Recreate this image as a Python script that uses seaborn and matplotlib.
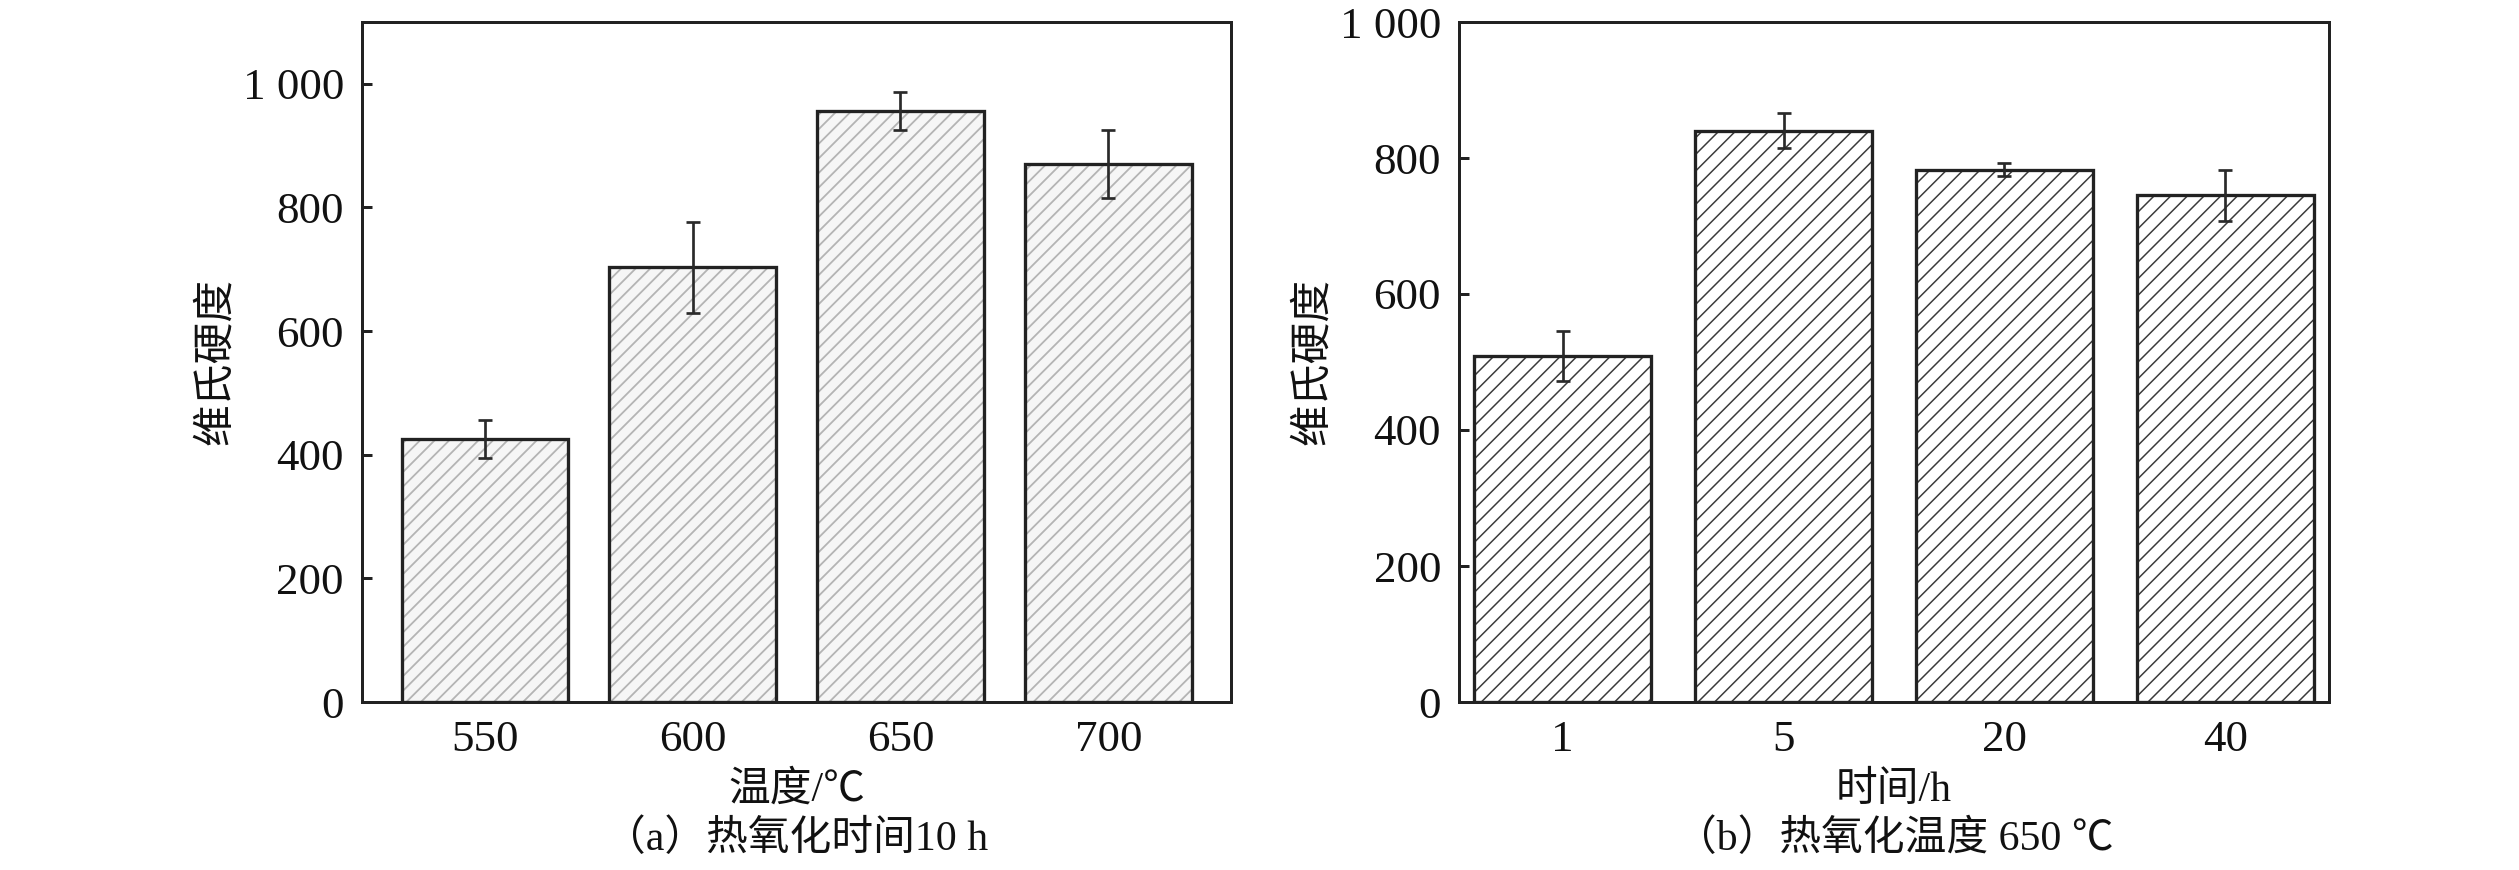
import numpy as np
import pandas as pd
import matplotlib
matplotlib.use('Agg')
import matplotlib.pyplot as plt
import seaborn as sns

# ---- data ----
temps = ['550', '600', '650', '700']
hv_temp = [425, 703, 956, 870]
err_temp = [31, 73, 30, 55]

times = ['1', '5', '20', '40']
hv_time = [509, 840, 783, 745]
err_time = [37, 26, 10, 38]

ylabel = '维氏硬度'
xlabel_a = '温度/℃'
xlabel_b = '时间/h'
caption_a = '（a）热氧化时间10 h'
caption_b = '（b）热氧化温度 650 ℃'

sns.set_style('ticks')
plt.rcParams['font.family'] = ['Liberation Serif', 'Noto Sans CJK SC']
plt.rcParams['axes.unicode_minus'] = False

DPI = 350
W, H = 2519, 870


def P(px):
    """pixels -> points at the output dpi"""
    return px * 72.0 / DPI


fig = plt.figure(figsize=(W / DPI, H / DPI), dpi=DPI)


def add_ax(l, r, t, b):
    return fig.add_axes([l / W, 1 - b / H, (r - l) / W, (b - t) / H])


axa = add_ax(362, 1231, 22, 702)
axb = add_ax(1459, 2329, 22, 702)

EDGE = '#222222'


def panel(ax, cats, vals, errs, hatch, hcolor, face, hlw, xlabel, caption, ylim, xlim):
    df = pd.DataFrame({'cat': cats, 'val': vals})
    plt.rcParams['hatch.linewidth'] = P(hlw)
    sns.barplot(data=df, x='cat', y='val', ax=ax, color=face, saturation=1,
                width=0.8, hatch=hatch, edgecolor=hcolor, linewidth=0,
                errorbar=None)
    sns.barplot(data=df, x='cat', y='val', ax=ax, color=EDGE, fill=False,
                width=0.8, linewidth=P(3.3), errorbar=None)
    ax.errorbar(np.arange(len(cats)), vals, yerr=errs, fmt='none',
                ecolor='#2a2a2a', elinewidth=P(2.7), capsize=P(7), capthick=P(2.7),
                zorder=5)
    ax.set_ylim(*ylim)
    ax.set_xlim(*xlim)
    ax.set_yticks(range(0, 1001, 200))
    ax.set_yticklabels([f'{v:,}'.replace(',', ' ') for v in range(0, 1001, 200)])
    ax.tick_params(direction='in', length=P(10), width=P(3), labelsize=P(45),
                   top=False, right=False, colors=EDGE, labelcolor='#111111')
    ax.tick_params(axis='y', pad=P(18))
    ax.tick_params(axis='x', pad=P(18))
    for s in ax.spines.values():
        s.set_visible(True)
        s.set_linewidth(P(3))
        s.set_color(EDGE)
    ax.set_xlabel(xlabel, fontsize=P(41.7), labelpad=P(11), color='#111111')
    ax.set_ylabel(ylabel, fontsize=P(41.7), labelpad=P(6.7), color='#111111')
    pos = ax.get_position()
    fig.text(pos.x0 + pos.width / 2, 31 / H, caption, ha='center', va='center',
             fontsize=P(41.7), color='#111111')


# 8 strokes at 350 dpi -> ~7.3 px line spacing; 7 strokes -> ~8.3 px
panel(axa, temps, hv_temp, err_temp, '/' * 8, '#b4b4b4', '#f6f6f6', 1.8,
      xlabel_a, caption_a, (0, 1100), (-0.59, 3.59))
panel(axb, times, hv_time, err_time, '/' * 7, '#3a3a3a', '#ffffff', 1.5,
      xlabel_b, caption_b, (0, 1000), (-0.47, 3.47))

fig.savefig('out.png', dpi=DPI)
